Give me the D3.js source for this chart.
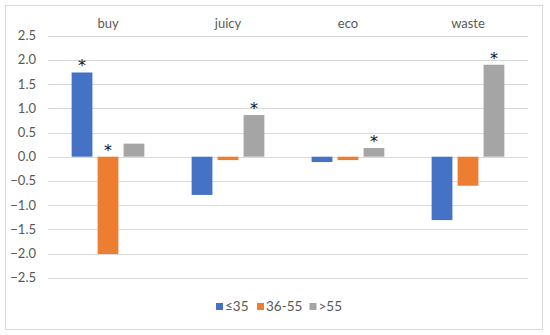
<!DOCTYPE html>
<html>
<head>
<meta charset="utf-8">
<script src="https://cdn.jsdelivr.net/npm/d3@7"></script>
<style>
  body { margin: 0; background: #fff; }
  text { font-family: Lato, "Open Sans", sans-serif; fill: #595959; }
</style>
</head>
<body>
<svg></svg>
<script>
// datos del grafico
var categories = ["buy", "juicy", "eco", "waste"];
var series = ["≤35", "36-55", ">55"];
var values = [
  [1.74, -2.01, 0.27],
  [-0.79, -0.07, 0.86],
  [-0.11, -0.07, 0.18],
  [-1.31, -0.6, 1.9]
];
// asteriscos de significancia
var significant = [
  [true, true, false],
  [false, false, true],
  [false, false, true],
  [false, false, true]
];
var yTicks = [2.5, 2.0, 1.5, 1.0, 0.5, 0.0, -0.5, -1.0, -1.5, -2.0, -2.5];
var colors = ["#4472C4", "#ED7D31", "#A5A5A5"];

var svgWidth = 550, svgHeight = 335;
var svg = d3.select("svg").attr("width", svgWidth).attr("height", svgHeight);

// marco exterior
svg.append("rect")
  .attr("x", 5.5).attr("y", 5.5)
  .attr("width", 537).attr("height", 324)
  .attr("fill", "#fff")
  .attr("stroke", "#d9d9d9");

var plotLeft = 48, plotRight = 528, plotTop = 35.7, plotBottom = 277.7;

var y = d3.scaleLinear().domain([2.5, -2.5]).range([plotTop, plotBottom]);
var x0 = d3.scaleBand().domain(categories).range([plotLeft, plotRight]);
var x1 = d3.scaleBand().domain(series)
  .range([x0.bandwidth() * 0.197, x0.bandwidth() * 0.803])
  .paddingInner(0.2);

// lineas de grilla
svg.append("g")
  .selectAll("line")
  .data(yTicks)
  .enter().append("line")
  .attr("x1", plotLeft).attr("x2", plotRight)
  .attr("y1", function (d) { return Math.round(y(d)) + 0.5; })
  .attr("y2", function (d) { return Math.round(y(d)) + 0.5; })
  .attr("stroke", "#d9d9d9")
  .attr("stroke-width", 1);

// etiquetas del eje y
svg.append("g")
  .selectAll("text")
  .data(yTicks)
  .enter().append("text")
  .attr("x", 36)
  .attr("y", function (d) { return y(d); })
  .attr("dy", "0.35em")
  .attr("text-anchor", "end")
  .style("font-size", "13px")
  .text(function (d) { return d3.format(".1f")(d); });

// etiquetas de categorias arriba
svg.append("g")
  .selectAll("text")
  .data(categories)
  .enter().append("text")
  .attr("x", function (d) { return x0(d) + x0.bandwidth() / 2; })
  .attr("y", 23)
  .attr("dy", "0.35em")
  .attr("text-anchor", "middle")
  .style("font-size", "13px")
  .text(function (d) { return d; });

// barras
var groups = svg.append("g")
  .selectAll("g")
  .data(categories)
  .enter().append("g")
  .attr("transform", function (d) { return "translate(" + x0(d) + ",0)"; });

function rows(d, i) {
  return series.map(function (s, j) {
    return { s: s, j: j, v: values[i][j], sig: significant[i][j] };
  });
}

groups.selectAll("rect")
  .data(rows)
  .enter().append("rect")
  .attr("x", function (d) { return x1(d.s); })
  .attr("width", x1.bandwidth())
  .attr("y", function (d) { return y(Math.max(d.v, 0)); })
  .attr("height", function (d) { return Math.abs(y(d.v) - y(0)); })
  .attr("fill", function (d) { return colors[d.j]; });

groups.selectAll("text")
  .data(function (d, i) {
    return rows(d, i).filter(function (r) { return r.sig; });
  })
  .enter().append("text")
  .attr("x", function (d) { return x1(d.s) + x1.bandwidth() / 2; })
  .attr("y", function (d) { return y(Math.max(d.v, 0)) - 1; })
  .attr("text-anchor", "middle")
  .style("font-family", "'DejaVu Sans', sans-serif")
  .style("font-size", "16px")
  .style("fill", "#111")
  .text("*");

// leyenda
var legendX = [216, 257, 309.5];
var legend = svg.append("g")
  .selectAll("g")
  .data(series)
  .enter().append("g")
  .attr("transform", function (d, i) { return "translate(" + legendX[i] + ",303)"; });

legend.append("rect")
  .attr("width", 7).attr("height", 7)
  .attr("fill", function (d, i) { return colors[i]; });

legend.append("text")
  .attr("x", 9)
  .attr("y", 3.5)
  .attr("dy", "0.35em")
  .style("font-size", "13.5px")
  .text(function (d) { return d; });
</script>
</body>
</html>
